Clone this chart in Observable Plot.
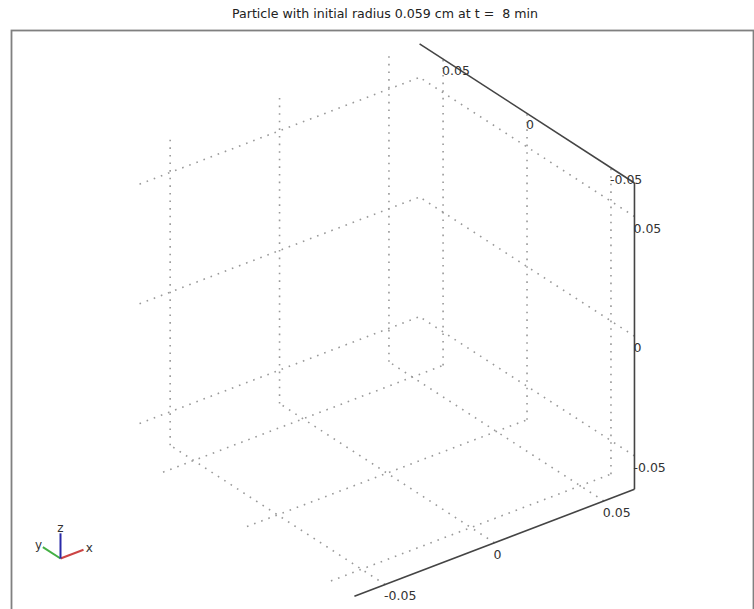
<!DOCTYPE html>
<html><head><meta charset="utf-8">
<script src="https://cdn.jsdelivr.net/npm/d3@7"></script>
<script src="https://cdn.jsdelivr.net/npm/@observablehq/plot@0.6"></script>
<style>
body{margin:0;background:#fff;font-family:"DejaVu Sans",sans-serif;}
#title{height:27px;width:738px;padding-left:16px;text-align:center;font-size:12.6px;line-height:28px;white-space:pre;color:#222;}
#chart svg{display:block;}
</style></head><body>
<div id="title"></div>
<div id="chart"></div>
<script>
// ---- data ----
const titleText = "Particle with initial radius 0.059 cm at t =  8 min";
const xTicks = [-0.05, 0, 0.05];
const yTicks = [-0.05, 0, 0.05];
const zTicks = [-0.05, 0, 0.05];
const tickLabels = ["-0.05", "0", "0.05"];
const xLim = [-0.064, 0.064];
const yLim = [-0.064, 0.064];
const zLim = [-0.064, 0.064];
const triadNames = ["x", "y", "z"];
const triadColors = ["#cc4444", "#44b044", "#2a2aa8"];

document.getElementById("title").textContent = titleText;

// ---- view (orthographic) ----
const W = 754, H = 582;
const az = 37.5 * Math.PI / 180, el = 29.8 * Math.PI / 180;
const k = 353 / 0.128;           // px per cm
const cx = 386.5, cy = 292.5;    // where the box centre lands
function proj([x, y, z]) {
  return [x * Math.cos(az) - y * Math.sin(az),
          Math.sin(el) * (x * Math.sin(az) + y * Math.cos(az)) + Math.cos(el) * z];
}

// grid segments on the three back walls
const segs3 = [];
for (const t of xTicks) segs3.push([[t, yLim[1], zLim[0]], [t, yLim[1], zLim[1]]]);
for (const t of zTicks) segs3.push([[xLim[0], yLim[1], t], [xLim[1], yLim[1], t]]);
for (const t of yTicks) segs3.push([[xLim[1], t, zLim[0]], [xLim[1], t, zLim[1]]]);
for (const t of zTicks) segs3.push([[xLim[1], yLim[0], t], [xLim[1], yLim[1], t]]);
for (const t of xTicks) segs3.push([[t, yLim[0], zLim[0]], [t, yLim[1], zLim[0]]]);
for (const t of yTicks) segs3.push([[xLim[0], t, zLim[0]], [xLim[1], t, zLim[0]]]);
const toSeg = ([a, b]) => { const p = proj(a), q = proj(b); return {x1: p[0], y1: p[1], x2: q[0], y2: q[1]}; };
const grid = segs3.map(toSeg);

const axes = [
  [[xLim[0], yLim[0], zLim[0]], [xLim[1], yLim[0], zLim[0]]],
  [[xLim[1], yLim[0], zLim[0]], [xLim[1], yLim[0], zLim[1]]],
  [[xLim[1], yLim[0], zLim[1]], [xLim[1], yLim[1], zLim[1]]]
].map(toSeg);

const labels = [];
xTicks.forEach((t, i) => { const p = proj([t, yLim[0], zLim[0]]); labels.push({x: p[0], y: p[1], text: tickLabels[i]}); });
zTicks.forEach((t, i) => { const p = proj([xLim[1], yLim[0], t]); labels.push({x: p[0], y: p[1], text: tickLabels[i]}); });
yTicks.forEach((t, i) => { const p = proj([xLim[1], t, zLim[1]]); labels.push({x: p[0], y: p[1], text: tickLabels[i]}); });

// orientation triad (bottom-left inset)
const tO = [(60 - cx) / k, (cy - (558 - 27)) / k];
const tL = 29 / k;
const unit = [[1, 0, 0], [0, 1, 0], [0, 0, 1]];
const triad = unit.map((u, i) => {
  const p = proj(u);
  return {x1: tO[0], y1: tO[1], x2: tO[0] + p[0] * tL, y2: tO[1] + p[1] * tL,
          lx: tO[0] + p[0] * tL * 1.25, ly: tO[1] + p[1] * tL * 1.2,
          name: triadNames[i], color: triadColors[i]};
});

const chart = Plot.plot({
  width: W, height: H, margin: 0,
  style: {fontFamily: "DejaVu Sans", background: "#fff"},
  x: {domain: [-cx / k, (W - cx) / k], range: [0, W], axis: null},
  y: {domain: [(cy - H) / k, cy / k], range: [H, 0], axis: null},
  marks: [
    Plot.frame({stroke: "#808080", strokeWidth: 1.8, insetLeft: 11, insetTop: 3, insetRight: 1, insetBottom: -6}),
    Plot.link(grid, {x1: "x1", y1: "y1", x2: "x2", y2: "y2", stroke: "#999", strokeWidth: 1.6, strokeDasharray: "1.6,6"}),
    Plot.link(axes, {x1: "x1", y1: "y1", x2: "x2", y2: "y2", stroke: "#444", strokeWidth: 1.6}),
    Plot.text(labels, {x: "x", y: "y", text: "text", textAnchor: "start", dx: -1, dy: 12, fontSize: 12.5, fill: "#333"}),
    Plot.link(triad, {x1: "x1", y1: "y1", x2: "x2", y2: "y2", stroke: "color", strokeWidth: 2}),
    Plot.text(triad, {x: "lx", y: "ly", text: "name", fontSize: 12, fill: "#333"})
  ]
});
document.getElementById("chart").appendChild(chart);
</script>
</body></html>
